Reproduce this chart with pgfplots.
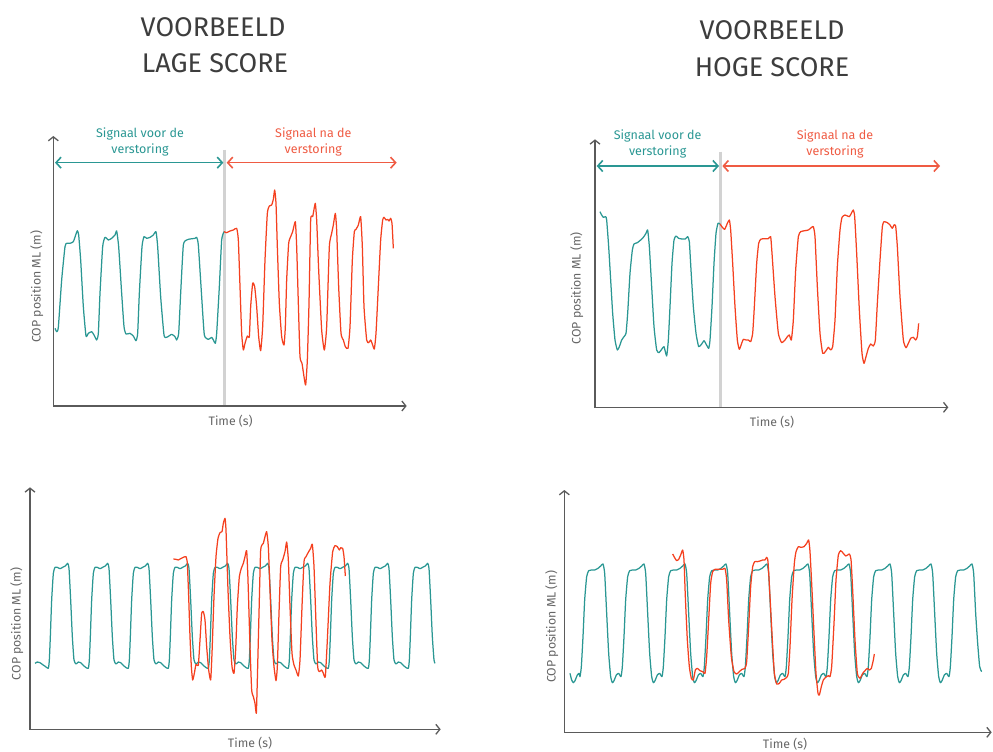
\documentclass[border=0pt]{standalone}
\usepackage{pgfplots}
\pgfplotsset{compat=1.18}
\usepackage{fontspec}
\setmainfont{Fira Sans}
\usetikzlibrary{arrows.meta}
\definecolor{teal1}{HTML}{2A9793}
\definecolor{red1}{HTML}{F4401F}
\definecolor{redtxt}{HTML}{EF5B43}
\definecolor{axgray}{HTML}{5A5A5A}
\definecolor{txtgray}{HTML}{666666}
\definecolor{titlegray}{HTML}{3D3D3D}
\definecolor{vgray}{HTML}{D2D2D2}
\pgfplotsset{
  panel/.style={anchor=south west, scale only axis, hide axis, clip=false, y dir=reverse, ymin=0, xmin=0},
  sig/.style={line width=1.25pt, line join=round, no marks, smooth, tension=0.3},
}
\tikzset{
  ax/.style={axgray, line width=1.3pt, {Straight Barb[length=4pt,width=10pt]}-{Straight Barb[length=4pt,width=10pt]}},
  dbl/.style={line width=1.6pt, {Straight Barb[length=5pt,width=11pt]}-{Straight Barb[length=5pt,width=11pt]}},
  lab/.style={txtgray, font=\fontsize{12.3}{14}\selectfont},
  sigtxt/.style={font=\fontsize{12.5}{15}\selectfont, anchor=base},
}
\begin{document}
\begin{tikzpicture}[x=1pt,y=1pt]
\useasboundingbox (0,0) rectangle (993,752);
% titles
\node[anchor=base, titlegray, font=\fontsize{27}{32}\selectfont] at (213,715) {VOORBEELD};
\node[anchor=base, titlegray, font=\fontsize{27}{32}\selectfont] at (215,679) {LAGE SCORE};
\node[anchor=base, titlegray, font=\fontsize{27}{32}\selectfont] at (772,712) {VOORBEELD};
\node[anchor=base, titlegray, font=\fontsize{27}{32}\selectfont] at (772,675) {HOGE SCORE};

% ---------------- Panel 1: top left ----------------
\begin{axis}[panel, at={(20pt,322pt)}, width=400pt, height=310pt, xmax=1200, ymax=930]
\draw[vgray, line width=3pt] (axis cs:614,90) -- (axis cs:614,858);
\draw[ax] (axis cs:100,48) -- (axis cs:100,858) -- (axis cs:1160,858);
\draw[dbl, teal1] (axis cs:105,128) -- (axis cs:610,128);
\draw[dbl, redtxt] (axis cs:620,128) -- (axis cs:1130,128);
\node[sigtxt, teal1] at (axis cs:360,52) {Signaal voor de};
\node[sigtxt, teal1] at (axis cs:360,100) {verstoring};
\node[sigtxt, redtxt] at (axis cs:880,52) {Signaal na de};
\node[sigtxt, redtxt] at (axis cs:880,100) {verstoring};
\node[lab] at (axis cs:632,903) {Time (s)};
\node[lab, rotate=90] at (axis cs:50,500) {COP position ML (m)};
\addplot[sig, teal1] coordinates {
(105,625) (110,635) (115,622) (125,480) (135,380) (140,370) (150,370) (160,365) (167,345) (172,332) (176,345) (182,420) (190,560) (198,648) (205,640) (215,635) (222,645) (230,660) (235,640) (240,520) (248,380) (255,352) (265,360) (275,355) (285,345) (290,333) (296,380) (305,520) (312,620) (318,642) (330,640) (340,648) (348,662) (353,640) (358,520) (366,380) (372,350) (380,355) (390,352) (400,345) (408,335) (413,380) (422,530) (432,645) (440,652) (455,643) (465,650) (470,660) (476,640) (482,520) (490,375) (500,360) (510,357) (525,355) (530,352) (535,375) (545,530) (553,645) (565,658) (575,652) (580,660) (586,670) (590,640) (598,500) (605,360) (612,335)
};
\addplot[sig, red1] coordinates {
(612,335) (620,338) (630,333) (640,330) (650,325) (655,360) (660,500) (665,640) (670,690) (675,670) (682,648) (688,650) (692,560) (698,490) (704,500) (710,560) (716,650) (722,692) (728,620) (735,420) (742,280) (748,258) (755,255) (760,238) (764,210) (768,250) (772,380) (778,550) (785,650) (792,675) (796,620) (800,480) (806,370) (812,350) (818,335) (826,305) (830,380) (835,550) (840,710) (846,730) (852,770) (857,795) (862,720) (867,550) (872,300) (878,290) (882,268) (886,250) (890,300) (896,450) (905,630) (913,690) (920,620) (928,380) (935,340) (940,315) (946,280) (950,330) (956,500) (963,640) (970,660) (976,680) (984,685) (990,620) (997,420) (1003,335) (1008,328) (1015,315) (1022,290) (1027,380) (1032,560) (1040,660) (1046,668) (1052,660) (1058,675) (1063,687) (1068,640) (1075,500) (1082,360) (1088,300) (1092,292) (1098,300) (1103,298) (1107,303) (1112,295) (1116,310) (1120,385)
};
\end{axis}

% ---------------- Panel 2: top right ----------------
\begin{axis}[panel, at={(560pt,322pt)}, width=400pt, height=310pt, xmax=1200, ymax=930]
\draw[vgray, line width=3pt] (axis cs:482,95) -- (axis cs:482,862);
\draw[ax] (axis cs:105,58) -- (axis cs:105,862) -- (axis cs:1165,862);
\draw[dbl, teal1] (axis cs:110,138) -- (axis cs:477,138);
\draw[dbl, redtxt] (axis cs:487,138) -- (axis cs:1140,138);
\node[sigtxt, teal1] at (axis cs:293,58) {Signaal voor de};
\node[sigtxt, teal1] at (axis cs:293,108) {verstoring};
\node[sigtxt, redtxt] at (axis cs:825,58) {Signaal na de};
\node[sigtxt, redtxt] at (axis cs:825,108) {verstoring};
\node[lab] at (axis cs:636,907) {Time (s)};
\node[lab, rotate=90] at (axis cs:50,505) {COP position ML (m)};
\addplot[sig, teal1] coordinates {
(120,275) (125,285) (130,292) (137,290) (140,300) (146,380) (152,480) (158,580) (165,660) (172,690) (178,680) (185,660) (192,650) (198,640) (203,580) (210,460) (217,390) (222,372) (232,368) (242,360) (250,352) (258,340) (263,330) (268,380) (275,500) (282,620) (290,690) (297,698) (305,688) (312,680) (320,708) (325,660) (330,560) (336,430) (342,360) (348,348) (356,355) (366,357) (376,357) (383,350) (388,365) (393,450) (400,560) (408,640) (416,680) (425,672) (432,662) (438,672) (446,685) (450,660) (456,560) (462,430) (468,340) (474,310) (480,312)
};
\addplot[sig, red1] coordinates {
(480,312) (487,322) (494,328) (502,310) (508,300) (512,330) (518,430) (525,560) (532,660) (538,688) (545,670) (550,658) (558,660) (565,660) (572,665) (578,640) (583,560) (590,430) (596,370) (602,358) (612,356) (625,356) (632,350) (636,400) (645,530) (655,640) (665,668) (675,660) (682,650) (688,645) (694,660) (700,600) (707,450) (715,350) (722,335) (735,332) (745,330) (755,322) (760,320) (765,350) (772,500) (780,640) (788,700) (796,695) (805,682) (812,690) (818,680) (825,600) (832,440) (840,330) (846,292) (855,285) (868,290) (875,278) (880,270) (884,290) (890,400) (898,570) (906,700) (912,730) (918,710) (925,685) (932,672) (940,678) (946,660) (952,550) (960,420) (967,320) (972,305) (982,308) (990,315) (997,325) (1002,315) (1007,318) (1012,380) (1020,530) (1030,660) (1038,683) (1045,670) (1052,655) (1060,652) (1067,660) (1072,650) (1076,610)
};
\end{axis}

% ---------------- Panel 3: bottom left ----------------
\begin{axis}[panel, at={(0pt,0pt)}, width=500pt, height=272pt, xmax=1500, ymax=816]
\draw[ax] (axis cs:90,22) -- (axis cs:90,748) -- (axis cs:1322,748);
\node[lab] at (axis cs:750,790) {Time (s)};
\node[lab, rotate=90] at (axis cs:50,432) {COP position ML (m)};
\addplot[sig, teal1] coordinates {
(105,550) (112,546) (120,548) (128,554) (137,560)
(145,565) (148,540) (151,470) (155,360) (160,280) (165,262) (172,262) (180,266) (188,262) (196,258) (203,250) (207,265) (212,360) (217,470) (222,540) (228,552) (235,546) (242,548) (250,556) (257,562)
(265,565) (268,540) (271,470) (275,360) (280,280) (285,262) (292,262) (300,266) (308,262) (316,258) (323,250) (327,265) (332,360) (337,470) (342,540) (348,552) (355,546) (362,548) (370,556) (377,562)
(385,565) (388,540) (391,470) (395,360) (400,280) (405,262) (412,262) (420,266) (428,262) (436,258) (443,250) (447,265) (452,360) (457,470) (462,540) (468,552) (475,546) (482,548) (490,556) (497,562)
(505,565) (508,540) (511,470) (515,360) (520,280) (525,262) (532,262) (540,266) (548,262) (556,258) (563,250) (567,265) (572,360) (577,470) (582,540) (588,552) (595,546) (602,548) (610,556) (617,562)
(625,565) (628,540) (631,470) (635,360) (640,280) (645,262) (652,262) (660,266) (668,262) (676,258) (683,250) (687,265) (692,360) (697,470) (702,540) (708,552) (715,546) (722,548) (730,556) (737,562)
(745,565) (748,540) (751,470) (755,360) (760,280) (765,262) (772,262) (780,266) (788,262) (796,258) (803,250) (807,265) (812,360) (817,470) (822,540) (828,552) (835,546) (842,548) (850,556) (857,562)
(865,565) (868,540) (871,470) (875,360) (880,280) (885,262) (892,262) (900,266) (908,262) (916,258) (923,250) (927,265) (932,360) (937,470) (942,540) (948,552) (955,546) (962,548) (970,556) (977,562)
(985,565) (988,540) (991,470) (995,360) (1000,280) (1005,262) (1012,262) (1020,266) (1028,262) (1036,258) (1043,250) (1047,265) (1052,360) (1057,470) (1062,540) (1068,552) (1075,546) (1082,548) (1090,556) (1097,562)
(1105,565) (1108,540) (1111,470) (1115,360) (1120,280) (1125,262) (1132,262) (1140,266) (1148,262) (1156,258) (1163,250) (1167,265) (1172,360) (1177,470) (1182,540) (1188,552) (1195,546) (1202,548) (1210,556) (1217,562)
(1225,565) (1228,540) (1231,470) (1235,360) (1240,280) (1245,262) (1252,262) (1260,266) (1268,262) (1276,258) (1283,250) (1287,265) (1292,360) (1297,470) (1302,540) (1305,550)
};
\addplot[sig, red1] coordinates {
(520,237) (528,238) (535,240) (542,236) (550,232) (558,230) (562,250) (566,350) (570,470) (574,560) (578,600) (583,580) (588,553) (595,555) (600,480) (605,400) (610,395) (615,420) (620,500) (626,570) (632,600) (636,520) (642,350) (648,230) (654,175) (660,158) (666,155) (670,130) (675,115) (678,150) (684,330) (690,470) (696,560) (702,580) (707,510) (712,380) (718,290) (724,265) (730,250) (735,230) (740,212) (744,300) (750,500) (755,630) (760,650) (765,670) (769,700) (772,600) (777,400) (782,210) (790,190) (795,170) (800,155) (805,200) (810,330) (816,480) (822,560) (828,602) (832,560) (837,400) (842,260) (848,240) (855,215) (860,186) (865,240) (870,380) (876,520) (882,555) (888,570) (895,588) (900,540) (906,380) (912,245) (918,230) (926,215) (932,205) (937,193) (942,260) (948,430) (953,560) (958,575) (965,570) (970,580) (976,590) (982,480) (990,310) (998,215) (1005,197) (1012,200) (1018,210) (1022,203) (1028,205) (1032,230) (1036,288)
};
\end{axis}

% ---------------- Panel 4: bottom right ----------------
\begin{axis}[panel, at={(530pt,0pt)}, width=463pt, height=272pt, xmax=1389, ymax=816]
\draw[ax] (axis cs:103,30) -- (axis cs:103,757) -- (axis cs:1385,757);
\node[lab] at (axis cs:765,792) {Time (s)};
\node[lab, rotate=90] at (axis cs:65,440) {COP position ML (m)};
\addplot[sig, teal1] coordinates {
(120,580) (125,600) (130,608) (135,602) (142,585) (147,580)
(150,590) (154,560) (159,470) (164,360) (170,290) (176,272) (184,270) (194,270) (204,265) (212,258) (219,252) (224,280) (230,400) (236,520) (242,590) (247,608) (252,602) (259,585) (266,580)
(273,590) (277,560) (282,470) (287,360) (293,290) (299,272) (307,270) (317,270) (327,265) (335,258) (342,252) (347,280) (353,400) (359,520) (365,590) (370,608) (375,602) (382,585) (389,580)
(396,590) (400,560) (405,470) (410,360) (416,290) (422,272) (430,270) (440,270) (450,265) (458,258) (465,252) (470,280) (476,400) (482,520) (488,590) (493,608) (498,602) (505,585) (512,580)
(519,590) (523,560) (528,470) (533,360) (539,290) (545,272) (553,270) (563,270) (573,265) (581,258) (588,252) (593,280) (599,400) (605,520) (611,590) (616,608) (621,602) (628,585) (635,580)
(642,590) (646,560) (651,470) (656,360) (662,290) (668,272) (676,270) (686,270) (696,265) (704,258) (711,252) (716,280) (722,400) (728,520) (734,590) (739,608) (744,602) (751,585) (758,580)
(765,590) (769,560) (774,470) (779,360) (785,290) (791,272) (799,270) (809,270) (819,265) (827,258) (834,252) (839,280) (845,400) (851,520) (857,590) (862,608) (867,602) (874,585) (881,580)
(888,590) (892,560) (897,470) (902,360) (908,290) (914,272) (922,270) (932,270) (942,265) (950,258) (957,252) (962,280) (968,400) (974,520) (980,590) (985,608) (990,602) (997,585) (1004,580)
(1011,590) (1015,560) (1020,470) (1025,360) (1031,290) (1037,272) (1045,270) (1055,270) (1065,265) (1073,258) (1080,252) (1085,280) (1091,400) (1097,520) (1103,590) (1108,608) (1113,602) (1120,585) (1127,580)
(1134,590) (1138,560) (1143,470) (1148,360) (1154,290) (1160,272) (1168,270) (1178,270) (1188,265) (1196,258) (1203,252) (1208,280) (1214,400) (1220,520) (1226,590) (1231,608) (1236,602) (1243,585) (1250,580)
(1257,590) (1261,560) (1266,470) (1271,360) (1277,290) (1283,272) (1291,270) (1301,270) (1311,265) (1319,258) (1326,252) (1331,280) (1337,400) (1343,490) (1349,560) (1355,575)
};
\addplot[sig, red1] coordinates {
(428,222) (435,235) (440,242) (446,238) (452,225) (458,210) (462,240) (466,350) (472,480) (478,560) (484,595) (490,600) (496,570) (502,565) (510,572) (518,575) (525,580) (530,530) (536,420) (542,310) (548,275) (555,268) (565,268) (578,268) (585,265) (590,300) (596,420) (604,530) (612,575) (620,582) (628,575) (636,568) (645,565) (650,545) (656,440) (662,320) (668,260) (674,245) (682,245) (690,243) (698,240) (705,240) (710,232) (714,245) (720,350) (727,480) (733,580) (740,612) (748,610) (755,600) (762,598) (770,592) (775,580) (780,500) (786,360) (793,250) (798,215) (805,200) (812,202) (822,200) (830,190) (836,180) (840,215) (846,330) (852,460) (858,580) (864,640) (868,645) (874,620) (880,600) (887,592) (895,587) (900,590) (905,560) (912,430) (918,300) (925,225) (932,212) (940,220) (947,228) (953,225) (958,222) (963,238) (968,330) (975,480) (982,580) (990,595) (998,580) (1005,572) (1012,565) (1018,570) (1024,565) (1030,540) (1033,522)
};
\end{axis}
\end{tikzpicture}
\end{document}
